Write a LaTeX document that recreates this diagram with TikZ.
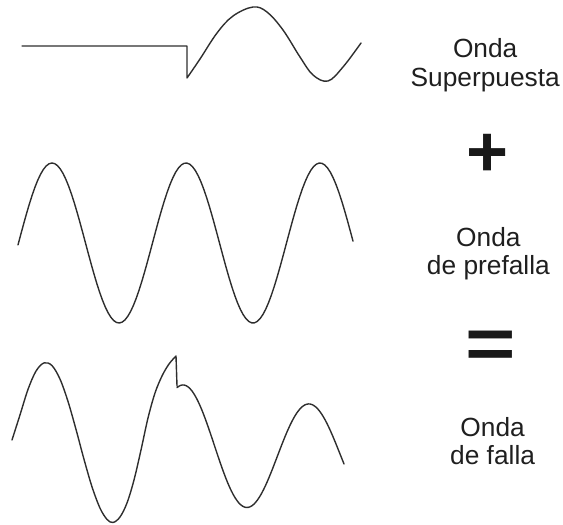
\documentclass[tikz,border=0pt]{standalone}
\usepackage{fontspec}
\setmainfont{Liberation Sans}
\newfontfamily\symfont{Liberation Sans Bold}
\begin{document}
\begin{tikzpicture}[x=1pt,y=-1pt,
  wave/.style={line width=1.4pt,draw=black!82,line join=round,line cap=round},
  lbl/.style={font=\fontsize{26.3}{28.8}\selectfont,align=center,anchor=north,inner sep=0pt,text=black!88},
  op/.style={font=\symfont\fontsize{72}{72}\selectfont,inner sep=0pt,text=black!90}]
\useasboundingbox (0,0) rectangle (563,525);
% top: superposed wave
\coordinate (t0) at (22,46);
\coordinate (t1) at (187,46);
\coordinate (t2) at (187,78);
\draw[wave] (t0) -- (t1) -- (t2)
  plot[smooth,tension=0.6] coordinates {(187,78) (200,59) (217,33) (233,16) (253,7) (267,12) (283,30) (300,57) (313,75) (328,81) (343,67) (361,43)};
% middle: prefault wave
\draw[wave] plot[domain=18:353,samples=120] (\x,{243-80*sin((\x-18.5)*2.68657)});
% bottom: fault wave
\coordinate (f1) at (176,356);
\coordinate (f2) at (177,386);
\draw[wave] plot[smooth,tension=0.55] coordinates {(12,440) (20,414.9) (28,389.4) (36,371.1) (44,362.9) (52,365.6) (60,379.1) (68,401.4) (76,429.4) (84,459.3) (92,486.8) (100,508.1) (107,519.4) (113,522.5) (120,517) (127,503) (134,480) (141,450) (148,418) (155,393) (162,376) (169,364) (176,356)}
  -- (f2)
  plot[domain=177:344,samples=90] (\x,{(446.5+(\x-184)*0.0714)-(61.5-(\x-184)*0.0794)*cos((\x-184)*2.857)});
% labels
\node[lbl] (l1) at (485.2,38.2) {Onda\\Superpuesta};
\node[op] (plus) at (488,155) {+};
\node[lbl] (l2) at (488.4,226.9) {Onda\\de prefalla};
\node[op,xscale=1.2] (eq) at (491,350) {=};
\node[lbl] (l3) at (492.6,416.9) {Onda\\de falla};
\end{tikzpicture}
\end{document}
